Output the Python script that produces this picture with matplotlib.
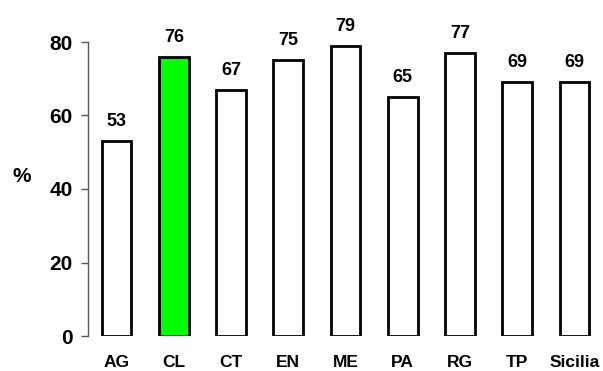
import matplotlib
matplotlib.use("Agg")
import matplotlib.pyplot as plt

categories = ["AG", "CL", "CT", "EN", "ME", "PA", "RG", "TP", "Sicilia"]
values = [53, 76, 67, 75, 79, 65, 77, 69, 69]
highlight = "CL"
yticks = [0, 20, 40, 60, 80]

plt.rcParams['font.family'] = ['Liberation Sans', 'DejaVu Sans']
plt.rcParams['font.weight'] = 'bold'

fig = plt.figure(figsize=(6.03, 3.71), dpi=100)
ax = fig.add_axes([88/603, 35/371, 515/603, 294/371])

colors = ["#00FF00" if c == highlight else "white" for c in categories]
x = list(range(len(categories)))
bars = ax.bar(x, values, width=0.52, color=colors, edgecolor="black", linewidth=2, zorder=2)
for xi, v in zip(x, values):
    ax.annotate(str(v), (xi, v), xytext=(0, 8), textcoords="offset points",
                ha="center", va="bottom", fontsize=13, fontweight="bold", annotation_clip=False)

ax.set_xlim(-0.5, len(categories) - 0.5)
ax.set_ylim(0, 80)
ax.set_xticks(x)
ax.set_xticklabels(categories, fontsize=12.5, fontweight="bold")
ax.tick_params(axis="x", length=0, pad=13.5)
ax.set_yticks(yticks)
ax.set_yticklabels([str(t) for t in yticks], fontsize=15, fontweight="bold")
ax.tick_params(axis="y", length=5, width=1, color="#555555", pad=6)
for s in ["top", "right", "bottom"]:
    ax.spines[s].set_visible(False)
ax.spines["left"].set_color("#555555")
ax.spines["left"].set_linewidth(1)
fig.text(22/603, 1 - 177/371, "%", ha="center", va="center", fontsize=15, fontweight="bold")

fig.savefig("out.png", dpi=100)
